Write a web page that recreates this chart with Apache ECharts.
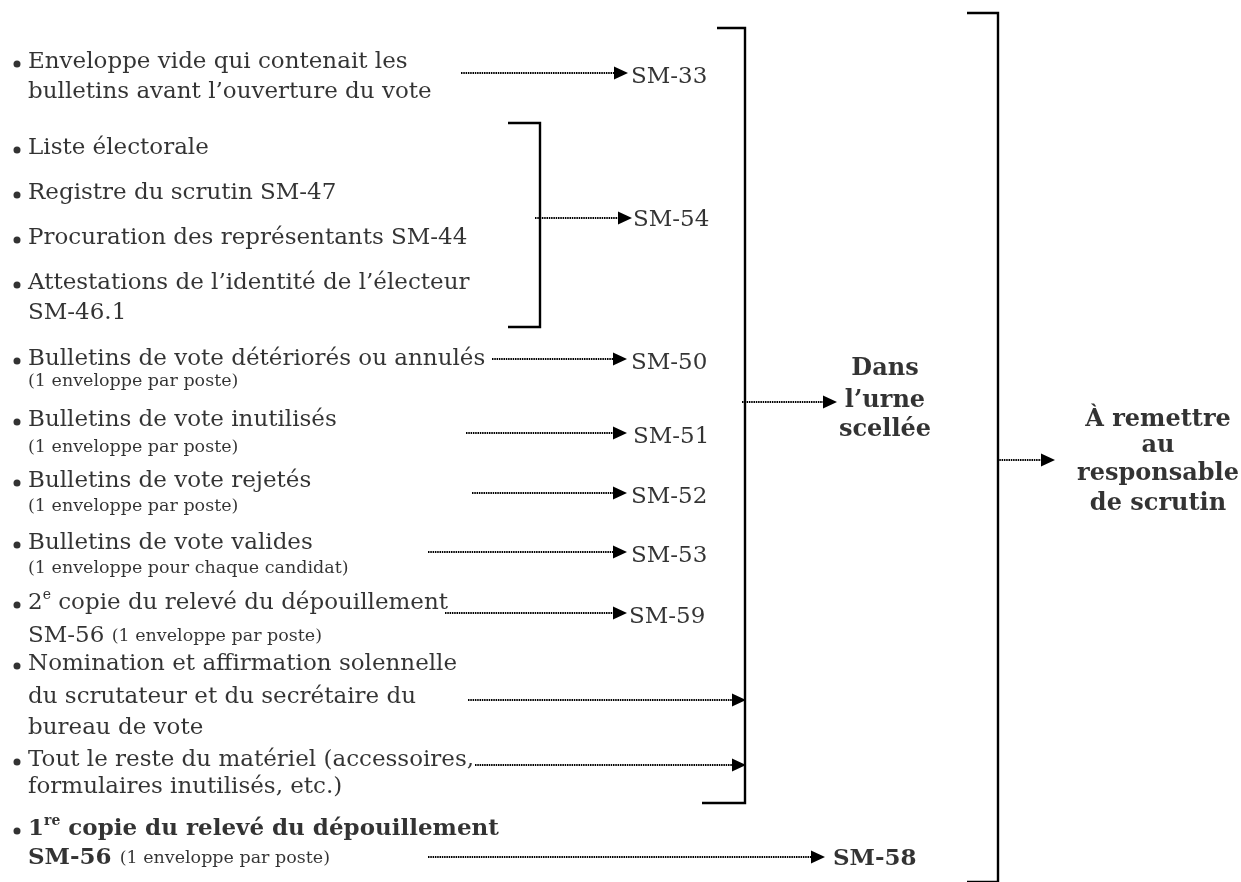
<!DOCTYPE html>
<html>
<head>
<meta charset="utf-8">
<script src="https://cdn.jsdelivr.net/npm/echarts@6/dist/echarts.min.js"></script>
<style>
html,body{margin:0;padding:0;background:#fff;}
#c{width:1241px;height:882px;}
</style>
</head>
<body>
<div id="c"></div>
<script>
// ---- data ----
const itemLines = [
  ['{n|Enveloppe vide qui contenait les}', '{n|bulletins avant l’ouverture du vote}'],
  ['{n|Liste électorale}'],
  ['{n|Registre du scrutin SM-47}'],
  ['{n|Procuration des représentants SM-44}'],
  ['{n|Attestations de l’identité de l’électeur}', '{n|SM-46.1}'],
  ['{n|Bulletins de vote détériorés ou annulés}', '{s|(1 enveloppe par poste)}'],
  ['{n|Bulletins de vote inutilisés}', '{s|(1 enveloppe par poste)}'],
  ['{n|Bulletins de vote rejetés}', '{s|(1 enveloppe par poste)}'],
  ['{n|Bulletins de vote valides}', '{s|(1 enveloppe pour chaque candidat)}'],
  ['{n|2}{sup|e}{n| copie du relevé du dépouillement}', '{n|SM-56 }{s|(1 enveloppe par poste)}'],
  ['{n|Nomination et affirmation solennelle}', '{n|du scrutateur et du secrétaire du}', '{n|bureau de vote}'],
  ['{n|Tout le reste du matériel (accessoires,}', '{n|formulaires inutilisés, etc.)}'],
  ['{b|1}{bsup|re}{b| copie du relevé du dépouillement}', '{b|SM-56 }{s|(1 enveloppe par poste)}']
];
const itemLineY = [
  [62, 92], [148], [193], [238], [283, 313], [359, 381], [420, 447],
  [481, 506], [543, 568], [603, 636], [664, 697, 728], [760, 787], [829, 858]
];
const itemX = 28;
const bulletX = 17;

const codeLabels = ['{n|SM-33}', '{n|SM-54}', '{n|SM-50}', '{n|SM-51}', '{n|SM-52}', '{n|SM-53}', '{n|SM-59}', '{b|SM-58}'];
const codeX = [631, 633, 631, 633, 631, 631, 629, 833];
const codeY = [77, 220, 363, 437, 497, 556, 617, 859];

// arrows: start x, tip x, y
const arrowStart = [461, 535, 492, 466, 472, 428, 445, 468, 475, 742, 997, 428];
const arrowTip   = [628, 632, 627, 627, 627, 627, 627, 746, 746, 837, 1055, 825];
const arrowY     = [73, 218, 359, 433, 493, 552, 613, 700, 765, 402, 460, 857];

// brackets: [x of open end top, y top, x vertical, y bottom, x of open end bottom]
const brackets = [
  [508, 123, 540, 327, 508],
  [717, 28, 745, 803, 702],
  [967, 13, 998, 882, 967]
];

const groupTitles = [
  ['{h|Dans}', '{h|l’urne}', '{h|scellée}'],
  ['{h|À remettre}', '{h|au}', '{h|responsable}', '{h|de scrutin}']
];
const groupX = [885, 1158];
const groupY = [[369, 401, 430], [420, 446, 474, 504]];

// ---- build ----
const SERIF = 'DejaVu Serif';
const rich = {
  n: {fontFamily: SERIF, fontSize: 23, color: '#000', lineHeight: 30},
  s: {fontFamily: SERIF, fontSize: 17.5, color: '#000', lineHeight: 30, verticalAlign: 'middle'},
  sup: {fontFamily: SERIF, fontSize: 14, color: '#000', lineHeight: 19, verticalAlign: 'top'},
  b: {fontFamily: SERIF, fontSize: 23, fontWeight: 'bold', color: '#000', lineHeight: 30},
  bsup: {fontFamily: SERIF, fontSize: 14, fontWeight: 'bold', color: '#000', lineHeight: 19, verticalAlign: 'top'},
  h: {fontFamily: SERIF, fontSize: 24, fontWeight: 'bold', color: '#000', lineHeight: 30}
};

const textData = [];
itemLines.forEach((lines, i) => {
  lines.forEach((t, j) => textData.push([itemX, itemLineY[i][j], t]));
});
codeLabels.forEach((t, i) => textData.push([codeX[i], codeY[i], t]));

const bulletData = itemLineY.map(ys => [bulletX, ys[0] + 2]);

const centerData = [];
groupTitles.forEach((lines, i) => {
  lines.forEach((t, j) => centerData.push([groupX[i], groupY[i][j], t]));
});

const HALF = 7;
const arrowData = arrowY.map((y, i) => ({coords: [[arrowStart[i], y], [arrowTip[i] - HALF, y]]}));

const bracketData = brackets.map(b => ({
  coords: [[b[0], b[1]], [b[2], b[1]], [b[2], b[3]], [b[4], b[3]]]
}));

const chart = echarts.init(document.getElementById('c'), null, {renderer: 'canvas'});
chart.setOption({
  animation: false,
  backgroundColor: '#fff',
  grid: {left: 0, right: 0, top: 0, bottom: 0},
  xAxis: {type: 'value', min: 0, max: 1241, show: false},
  yAxis: {type: 'value', min: 0, max: 882, inverse: true, show: false},
  series: [
    {
      type: 'lines', coordinateSystem: 'cartesian2d', polyline: true, silent: true,
      lineStyle: {color: '#000', width: 2.4, type: 'solid', opacity: 1},
      symbol: 'none',
      data: bracketData
    },
    {
      type: 'lines', coordinateSystem: 'cartesian2d', silent: true,
      lineStyle: {color: '#000', width: 2.2, type: [1.5, 0.8], opacity: 1},
      symbol: ['none', 'triangle'],
      symbolSize: [0, [13, 14]],
      data: arrowData
    },
    {
      type: 'scatter', symbol: 'circle', symbolSize: 7, silent: true,
      itemStyle: {color: '#000'},
      data: bulletData
    },
    {
      type: 'scatter', symbolSize: 0, silent: true,
      label: {show: true, position: 'right', distance: 0, color: '#000', formatter: p => p.value[2], rich: rich},
      data: textData
    },
    {
      type: 'scatter', symbolSize: 0, silent: true,
      label: {show: true, position: 'inside', align: 'center', verticalAlign: 'middle', color: '#000', formatter: p => p.value[2], rich: rich},
      data: centerData
    }
  ]
});
</script>
</body>
</html>
